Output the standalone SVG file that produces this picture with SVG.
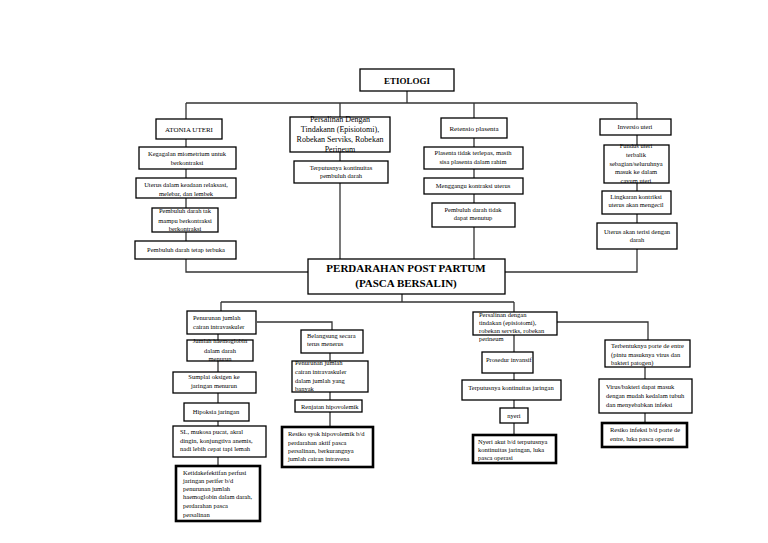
<svg xmlns="http://www.w3.org/2000/svg" width="768" height="543" viewBox="0 0 768 543">
<style>
rect{fill:#fff;stroke:#000;stroke-width:1.3}
rect.thick{stroke-width:2.6}
.c path{fill:none;stroke:#333;stroke-width:1.3}
text{font-family:"Liberation Serif","Times New Roman",serif;fill:#000;font-size:6.5px}
.m{text-anchor:middle}
.s7{font-size:7px}
.s8{font-size:8px}
.b{font-weight:bold}
</style>
<rect x="0" y="0" width="768" height="543" style="fill:#fff;stroke:none"/>
<g class="c">
<path d="M407,91V103M186,103H637M186,103V119M340,103V117M474,103V118M637,103V119"/>
<path d="M186,139V147M186,169V178M186,198V208M186,232V241M186,259V272H308"/>
<path d="M340,152V161M340,183V260"/>
<path d="M474,138V147M474,169V178M474,194V203M474,227V260"/>
<path d="M637,135V145M637,183V191M637,214V223M637,249V272H505"/>
<path d="M402,294V302M221,302H514M221,302V311M514,302V312"/>
<path d="M257,322H332V330"/>
<path d="M218,334V340M218,361V372M218,393V403M218,421V426M218,457V466"/>
<path d="M330,353V361M330,392V400M330,412V427"/>
<path d="M557,322H648V340"/>
<path d="M514,335V352M514,373V380M514,400V408M514,423V435"/>
<path d="M645,367V379M645,413V423"/>
</g>
<g id="etiologi"><rect x="360" y="69" width="94" height="22"/><text x="407" y="84" class="m b" style="font-size:9px">ETIOLOGI</text></g>
<g id="atonia"><rect x="156" y="119" width="66" height="20"/><text x="189" y="132" class="m s7">ATONIA UTERI</text></g>
<g id="kegagalan"><rect x="139" y="147" width="97" height="22"/><text x="187" y="156" class="m">Kegagalan miometrium untuk</text><text x="187" y="165" class="m">berkontraksi</text></g>
<g id="uterus-relaks"><rect x="136" y="178" width="100" height="20"/><text x="186" y="187" class="m">Uterus dalam keadaan relaksasi,</text><text x="186" y="196" class="m">melebar, dan lembek</text></g>
<g id="pembuluh-tak"><rect x="152" y="208" width="66" height="24"/><text x="185" y="213" class="m">Pembuluh darah tak</text><text x="185" y="223" class="m">mampu berkontraksi</text><text x="185" y="231" class="m">berkontraksi</text></g>
<g id="pembuluh-terbuka"><rect x="135" y="241" width="101" height="18"/><text x="186" y="252" class="m">Pembuluh darah tetap terbuka</text></g>
<g id="persalinan-tindakan"><rect x="290" y="117" width="100" height="35"/><text x="340" y="122" class="m s8">Persalinan Dengan</text><text x="340" y="132" class="m s8">Tindakann  (Episiotomi),</text><text x="340" y="142" class="m s8">Robekan Serviks, Robekan</text><text x="340" y="152" class="m s8">Perineum</text></g>
<g id="terputus-pembuluh"><rect x="294" y="161" width="94" height="22"/><text x="341" y="170" class="m">Terputusnya kontinuitas</text><text x="341" y="178" class="m">pembuluh darah</text></g>
<g id="retensio"><rect x="441" y="118" width="66" height="20"/><text x="474" y="131" class="m s7">Retensio plasenta</text></g>
<g id="plasenta"><rect x="424" y="147" width="99" height="22"/><text x="473" y="155" class="m">Plasenta tidak terlepas, masih</text><text x="473" y="164" class="m">sisa plasenta dalam rahim</text></g>
<g id="mengganggu"><rect x="424" y="178" width="99" height="16"/><text x="473" y="188" class="m">Menggangu kontraksi uterus</text></g>
<g id="pembuluh-menutup"><rect x="432" y="203" width="83" height="24"/><text x="473" y="212" class="m">Pembuluh darah tidak</text><text x="473" y="220" class="m">dapat menutup</text></g>
<g id="inversio"><rect x="600" y="119" width="71" height="16"/><text x="635" y="129" class="m">Inversio uteri</text></g>
<g id="fundus"><rect x="604" y="145" width="65" height="38"/><text x="636" y="148" class="m">Fundus uteri</text><text x="636" y="157" class="m">terbalik</text><text x="636" y="166" class="m">sebagian/seluruhnya</text><text x="636" y="174" class="m">masuk ke dalam</text><text x="636" y="183" class="m">cavum uteri</text></g>
<g id="lingkaran"><rect x="602" y="191" width="69" height="23"/><text x="636" y="199" class="m">Lingkaran kontriksi</text><text x="636" y="207" class="m">uterus akan mengecil</text></g>
<g id="uterus-terisi"><rect x="597" y="223" width="80" height="26"/><text x="637" y="234" class="m">Uterus akan terisi dengan</text><text x="637" y="242" class="m">darah</text></g>
<g id="perdarahan"><rect x="308" y="259" width="197" height="35"/><text x="406" y="272" class="m b" style="font-size:11px">PERDARAHAN POST PARTUM</text><text x="406" y="287" class="m b" style="font-size:11px">(PASCA BERSALIN)</text></g>
<g id="penurunan-cairan"><rect x="187" y="311" width="69" height="23"/><text x="193" y="320">Penurunan jumlah</text><text x="193" y="329">cairan intravaskuler</text></g>
<g id="haemoglobin"><rect x="187" y="340" width="66" height="21"/><text x="220" y="343" class="m">Jumlah haemoglobin</text><text x="220" y="353" class="m">dalam darah</text><text x="220" y="361" class="m">menurun</text></g>
<g id="sumplai"><rect x="173" y="372" width="83" height="21"/><text x="214" y="379" class="m">Sumplai oksigen ke</text><text x="214" y="388" class="m">jaringan menurun</text></g>
<g id="hipoksia"><rect x="184" y="403" width="65" height="18"/><text x="216" y="414" class="m">Hipoksia jaringan</text></g>
<g id="sl"><rect x="173" y="426" width="93" height="31"/><text x="180" y="434">SL, mukosa pucat, akral</text><text x="180" y="443">dingin, konjungtiva anemis,</text><text x="180" y="451">nadi lebih cepat tapi lemah</text></g>
<g id="ketidakefektifan"><rect class="thick" x="176" y="466" width="84" height="55"/><text x="183" y="475">Ketidakefektifan perfusi</text><text x="183" y="483">jaringan perifer b/d</text><text x="183" y="491">penurunan jumlah</text><text x="183" y="499">haemoglobin dalam darah,</text><text x="183" y="508">perdarahan pasca</text><text x="183" y="517">persalinan</text></g>
<g id="belangsung"><rect x="301" y="330" width="62" height="23"/><text x="307" y="338">Belangsung secara</text><text x="307" y="346">terus menerus</text></g>
<g id="penurunan-banyak"><rect x="292" y="361" width="76" height="31"/><text x="295" y="365">Penurunan jumlah</text><text x="295" y="374">cairan intravaskuler</text><text x="295" y="383">dalam jumlah yang</text><text x="295" y="391">banyak</text></g>
<g id="renjatan"><rect x="295" y="400" width="67" height="12"/><text x="301" y="409">Renjatan hipovolemik</text></g>
<g id="resiko-syok"><rect class="thick" x="282" y="427" width="91" height="40"/><text x="288" y="436">Resiko syok hipovolemik b/d</text><text x="288" y="445">perdarahan aktif pasca</text><text x="288" y="453">persalinan, berkurangnya</text><text x="288" y="461">jumlah cairan intravena</text></g>
<g id="persalinan-episiotomi"><rect x="473" y="312" width="84" height="23"/><text x="479" y="317">Persalinan dengan</text><text x="479" y="325">tindakan (episiotomi),</text><text x="479" y="333">robekan serviks, robekan</text><text x="479" y="341">perineum</text></g>
<g id="prosedur"><rect x="482" y="352" width="51" height="21"/><text x="486" y="362">Prosedur invansif</text></g>
<g id="terputus-jaringan"><rect x="462" y="380" width="99" height="20"/><text x="511" y="390" class="m">Terputusnya kontinuitas jaringan</text></g>
<g id="nyeri"><rect x="500" y="408" width="28" height="15"/><text x="514" y="418" class="m">nyeri</text></g>
<g id="nyeri-akut"><rect class="thick" x="473" y="435" width="83" height="28"/><text x="478" y="444">Nyeri akut b/d terputusnya</text><text x="478" y="452">kontinuitas jaringan, luka</text><text x="478" y="460">pasca operasi</text></g>
<g id="porte"><rect x="605" y="340" width="85" height="27"/><text x="611" y="348">Terbentuknya porte de entre</text><text x="611" y="357">(pintu masuknya virus dan</text><text x="611" y="365">bakteri patogen)</text></g>
<g id="virus"><rect x="599" y="379" width="93" height="34"/><text x="606" y="389">Virus/bakteri dapat masuk</text><text x="606" y="398">dengan mudah kedalam tubuh</text><text x="606" y="407">dan menyebabkan infeksi</text></g>
<g id="resiko-infeksi"><rect class="thick" x="602" y="423" width="85" height="24"/><text x="610" y="432">Resiko infeksi b/d porte de</text><text x="610" y="441">entre, luka pasca operasi</text></g>
</svg>
